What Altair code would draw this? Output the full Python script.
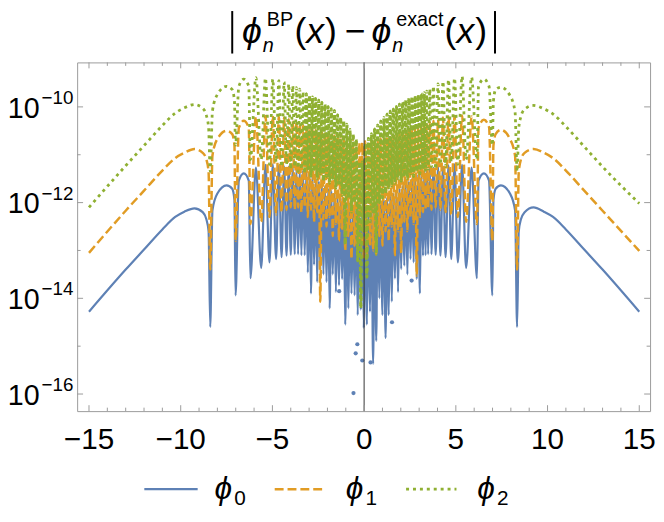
import altair as alt
import pandas as pd

# ---------------- data (log10 of the error) ----------------
X = [
    -15.0, -13.0, -12.0, -11.0, -10.3, -9.8, -9.25, -8.8, -8.6, -8.48,
    -8.39, -8.27, -8.0, -7.5, -7.19, -7.07,
    -7.01, -6.83, -6.56, -6.29,
    -6.20, -5.90, -5.61, -5.38, -5.16, -4.98, -4.80, -4.65, -4.50, -4.36,
    -4.23, -4.11, -4.00, -3.89, -3.78, -3.69, -3.60, -3.51, -3.42, -3.33,
    -3.24, -3.15, -3.07, -2.98, -2.90, -2.81, -2.73, -2.64, -2.56, -2.47,
    -2.39, -2.30, -2.22, -2.13, -2.05, -1.96, -1.88, -1.79, -1.71, -1.62,
    -1.54, -1.45, -1.37, -1.28, -1.20, -1.11, -1.03, -0.94, -0.86, -0.77,
    -0.69, -0.60, -0.52, -0.43, -0.35, -0.26, -0.18, -0.10, -0.02, 0.06,
    0.15, 0.23, 0.32, 0.40, 0.49, 0.57, 0.66, 0.74, 0.83, 0.91,
    1.00, 1.08, 1.17, 1.25, 1.34, 1.42, 1.51, 1.59, 1.68, 1.76,
    1.85, 1.93, 2.02, 2.10, 2.19, 2.27, 2.36, 2.44, 2.53, 2.61,
    2.70, 2.78, 2.87, 2.95, 3.04, 3.12, 3.21, 3.28, 3.35, 3.42,
    3.49, 3.58, 3.67, 3.78, 3.90, 4.03, 4.16, 4.30, 4.44, 4.60,
    4.75, 4.93, 5.11, 5.34, 5.56, 5.86, 6.15, 6.24, 6.53, 6.81,
    6.99, 7.05, 7.17, 7.46, 7.95, 8.23,
    8.34, 8.43, 8.55, 8.75, 9.24, 9.8, 10.3, 11.0, 12.0, 13.0, 15.0,
]

PHI0 = [
    -14.28, -13.40, -12.98, -12.56, -12.30, -12.19, -12.12, -12.20, -12.35, -12.60,
    -14.60, -12.16, -11.81, -11.64, -11.71, -11.95,
    -13.94, -11.54, -11.39, -11.54,
    -13.58, -11.27, -13.37, -11.21, -13.25, -11.20, -13.18, -11.22, -13.14, -11.24,
    -13.11, -11.25, -13.09, -11.27, -13.08, -11.28, -13.08, -11.30, -13.10, -11.32,
    -13.10, -11.35, -13.46, -11.40, -13.90, -11.45, -13.30, -11.50, -13.66, -11.55,
    -13.40, -11.60, -13.50, -11.65, -13.66, -11.70, -14.21, -11.75, -13.50, -11.80,
    -13.87, -11.85, -13.73, -11.90, -13.60, -11.95, -14.55, -12.00, -14.21, -12.00,
    -13.90, -12.05, -13.94, -12.05, -14.35, -12.10, -14.24, -12.10, -14.62, -12.10,
    -14.55, -12.10, -14.28, -12.05, -15.37, -12.05, -14.89, -12.00, -14.00, -12.00,
    -14.35, -11.95, -14.83, -11.90, -14.35, -11.85, -14.07, -11.80, -13.59, -11.75,
    -13.87, -11.70, -13.39, -11.65, -13.32, -11.60, -13.50, -11.55, -13.18, -11.50,
    -13.25, -11.45, -13.60, -11.40, -13.90, -11.35, -13.11, -11.32, -13.10, -11.30,
    -13.08, -11.28, -13.08, -11.27, -13.09, -11.25, -13.11, -11.24, -13.14, -11.22,
    -13.18, -11.20, -13.25, -11.21, -13.37, -11.27, -13.58, -11.54, -11.39, -11.54,
    -13.94, -11.95, -11.71, -11.64, -11.81, -12.16,
    -14.60, -12.60, -12.35, -12.20, -12.10, -12.19, -12.30, -12.56, -12.98, -13.40, -14.28,
]

PHI1 = [
    -13.05, -12.17, -11.75, -11.33, -11.07, -10.96, -10.88, -10.96, -11.10, -11.36,
    -13.40, -11.02, -10.67, -10.50, -10.57, -10.81,
    -12.80, -10.44, -10.29, -10.44,
    -12.45, -10.20, -12.40, -10.19, -12.30, -10.19, -12.25, -10.20, -12.20, -10.22,
    -12.15, -10.26, -12.10, -10.29, -12.15, -10.32, -12.10, -10.36, -12.20, -10.39,
    -12.10, -10.42, -12.30, -10.44, -12.15, -10.46, -12.40, -10.48, -12.20, -10.50,
    -14.07, -10.52, -12.35, -10.54, -12.50, -10.56, -12.30, -10.58, -12.70, -10.60,
    -12.45, -10.62, -12.80, -10.64, -12.55, -10.66, -13.00, -10.68, -12.70, -10.70,
    -13.18, -10.71, -12.90, -10.72, -13.10, -10.75, -13.00, -10.75, -13.20, -10.72,
    -13.10, -10.72, -12.90, -10.71, -13.00, -10.70, -13.08, -10.68, -12.70, -10.66,
    -12.90, -10.64, -12.60, -10.62, -12.80, -10.60, -12.50, -10.58, -13.10, -10.56,
    -12.60, -10.54, -13.05, -10.52, -12.40, -10.50, -12.60, -10.48, -12.30, -10.46,
    -12.45, -10.44, -13.53, -10.42, -12.30, -10.40, -12.20, -10.38, -12.15, -10.36,
    -12.10, -10.32, -12.15, -10.29, -12.10, -10.26, -12.15, -10.22, -12.20, -10.20,
    -12.25, -10.19, -12.30, -10.18, -12.40, -10.20, -12.45, -10.44, -10.27, -10.42,
    -12.80, -10.81, -10.57, -10.48, -10.67, -11.02,
    -13.40, -11.36, -11.10, -10.96, -10.88, -10.96, -11.07, -11.33, -11.75, -12.17, -13.01,
]

PHI2 = [
    -12.10, -11.23, -10.81, -10.39, -10.13, -10.02, -9.95, -10.03, -10.18, -10.43,
    -11.35, -10.09, -9.74, -9.57, -9.64, -9.88,
    -10.80, -9.57, -9.42, -9.57,
    -11.10, -9.39, -11.10, -9.40, -11.20, -9.42, -11.15, -9.45, -11.25, -9.48,
    -11.20, -9.52, -11.30, -9.56, -11.25, -9.60, -11.35, -9.63, -11.30, -9.68,
    -11.40, -9.73, -11.30, -9.76, -11.45, -9.79, -11.35, -9.82, -11.50, -9.86,
    -11.40, -9.90, -11.55, -9.95, -11.45, -9.99, -11.60, -10.04, -11.50, -10.08,
    -11.70, -10.16, -11.60, -10.22, -11.85, -10.29, -12.87, -10.36, -11.90, -10.47,
    -12.20, -10.57, -12.00, -10.68, -13.22, -11.15, -14.20, -11.15, -12.60, -10.76,
    -13.56, -10.66, -12.40, -10.56, -12.20, -10.46, -13.08, -10.38, -12.00, -10.30,
    -11.90, -10.22, -11.80, -10.15, -11.70, -10.09, -11.65, -10.04, -11.60, -9.99,
    -11.50, -9.94, -11.55, -9.90, -11.45, -9.86, -11.50, -9.82, -11.40, -9.79,
    -11.45, -9.77, -11.35, -9.75, -11.40, -9.72, -11.30, -9.70, -11.35, -9.67,
    -11.30, -9.63, -11.25, -9.57, -11.30, -9.52, -11.20, -9.47, -11.25, -9.43,
    -11.15, -9.40, -11.20, -9.36, -11.10, -9.38, -11.10, -9.57, -9.42, -9.57,
    -10.80, -9.88, -9.64, -9.59, -9.76, -10.11,
    -11.35, -10.45, -10.20, -10.05, -9.97, -10.04, -10.15, -10.41, -10.83, -11.25, -12.02,
]

DOT_X = [-1.36, -0.58, -0.46, -0.37, -0.10, 0.35, 1.52, 2.59]
DOT_Y = [-13.85, -15.98, -15.15, -14.96, -15.30, -15.34, -14.50, -13.63]

X_MAJOR = [-15, -10, -5, 0, 5, 10, 15]
X_LABELS = ["\u221215", "\u221210", "\u22125", "0", "5", "10", "15"]
X_MINOR = [-14, -13, -12, -11, -9, -8, -7, -6, -4, -3, -2, -1,
           1, 2, 3, 4, 6, 7, 8, 9, 11, 12, 13, 14]
Y_MAJOR = [-16, -14, -12, -10]
Y_EXP = ["\u221216", "\u221214", "\u221212", "\u221210"]
Y_MINOR = [-15, -13, -11]

SERIES = ["\u03d5", "\u03d5", "\u03d5"]
SUBS = ["0", "1", "2"]

# ---------------- layout ----------------
W, H = 580, 353
BLUE, ORANGE, GREEN = "#5E81B5", "#E19C24", "#8FB032"
FRAME = "#9a9a9a"
FONT = "Liberation Sans"

xs = alt.Scale(domain=[-15.646, 15.59], nice=False, zero=False)
ys = alt.Scale(domain=[-16.357, -9.071], nice=False, zero=False)
DENSE = "abs(datum.x) < 3.3"


def curve(vals, color, width, dash=None, dense_only=False, offset=0):
    df = pd.DataFrame({"x": X, "y": vals})
    kw = dict(color=color, strokeWidth=width, interpolate="monotone", clip=True)
    if dash:
        kw["strokeDash"] = dash
    if offset:
        kw["strokeDashOffset"] = offset
    ch = alt.Chart(df)
    if dense_only:
        ch = ch.transform_filter(DENSE)
    return ch.mark_line(**kw).encode(
        x=alt.X("x:Q", scale=xs, axis=None), y=alt.Y("y:Q", scale=ys, axis=None)
    )


DASH1 = [9, 4]
DASH2 = [3, 4]

c0 = curve(PHI0, BLUE, 2.2)
c1 = curve(PHI1, ORANGE, 2.5, DASH1)
c2 = curve(PHI2, GREEN, 2.8, DASH2)
c2b = curve(PHI2, GREEN, 2.8, DASH2, dense_only=True, offset=3.5)

dots = alt.Chart(pd.DataFrame({"x": DOT_X, "y": DOT_Y})).mark_circle(
    color=BLUE, size=18, opacity=1
).encode(x=alt.X("x:Q", scale=xs, axis=None), y=alt.Y("y:Q", scale=ys, axis=None))

zero_line = alt.Chart(pd.DataFrame({"x": [0]})).mark_rule(color="#333333", strokeWidth=1).encode(
    x=alt.X("x:Q", scale=xs, axis=None), y=alt.value(0), y2=alt.value(H)
)


def xticks(vals, length):
    d = pd.DataFrame({"x": vals})
    b = alt.Chart(d).mark_rule(color=FRAME, strokeWidth=1).encode(
        x=alt.X("x:Q", scale=xs, axis=None), y=alt.value(H), y2=alt.value(H - length))
    t = alt.Chart(d).mark_rule(color=FRAME, strokeWidth=1).encode(
        x=alt.X("x:Q", scale=xs, axis=None), y=alt.value(0), y2=alt.value(length))
    return [b, t]


def yticks(vals, length):
    d = pd.DataFrame({"y": vals})
    l = alt.Chart(d).mark_rule(color=FRAME, strokeWidth=1).encode(
        y=alt.Y("y:Q", scale=ys, axis=None), x=alt.value(0), x2=alt.value(length))
    r = alt.Chart(d).mark_rule(color=FRAME, strokeWidth=1).encode(
        y=alt.Y("y:Q", scale=ys, axis=None), x=alt.value(W), x2=alt.value(W - length))
    return [l, r]


ticks = xticks(X_MAJOR, 6) + xticks(X_MINOR, 3.5) + yticks(Y_MAJOR, 6) + yticks(Y_MINOR, 3.5)

xlab = alt.Chart(pd.DataFrame({"x": X_MAJOR, "t": X_LABELS})).mark_text(
    font=FONT, fontSize=30, baseline="top", align="center", color="black"
).encode(x=alt.X("x:Q", scale=xs, axis=None), y=alt.value(H + 14), text="t:N")

ylab10 = alt.Chart(pd.DataFrame({"y": Y_MAJOR, "t": ["10"] * 4})).mark_text(
    font=FONT, fontSize=29, baseline="alphabetic", align="right", color="black", dy=11
).encode(y=alt.Y("y:Q", scale=ys, axis=None), x=alt.value(-38), text="t:N")

ylabexp = alt.Chart(pd.DataFrame({"y": Y_MAJOR, "t": Y_EXP})).mark_text(
    font=FONT, fontSize=19, baseline="alphabetic", align="left", color="black", dy=-3
).encode(y=alt.Y("y:Q", scale=ys, axis=None), x=alt.value(-36), text="t:N")

# ---- title (pixel positions relative to the plot's top-left corner) ----
title_up = pd.DataFrame({
    "t": ["(", ")", "\u2212", "(", ")", "BP", "exact"],
    "px": [220, 251, 271, 372, 403, 192, 323],
    "py": [-20, -20, -20, -20, -20, -37, -37],
    "fs": [36, 36, 36, 36, 36, 20, 20],
})
title_it = pd.DataFrame({
    "t": ["\u03d5", "x", "n", "\u03d5", "x", "n"],
    "px": [167, 232, 188, 298, 384, 319],
    "py": [-20, -20, -11, -20, -20, -11],
    "fs": [36, 36, 20, 36, 36, 20],
})


def txt(df, italic):
    kw = dict(font=FONT, align="left", baseline="alphabetic", color="black")
    if italic:
        kw["fontStyle"] = "italic"
    return alt.Chart(df).mark_text(**kw).encode(
        x=alt.X("px:Q", scale=None), y=alt.Y("py:Q", scale=None),
        size=alt.Size("fs:Q", scale=None, legend=None), text="t:N")


bars = alt.Chart(pd.DataFrame({"x": [157, 423], "y": [-52, -52], "y2": [-9, -9]})).mark_rule(
    color="black", strokeWidth=2
).encode(x=alt.X("x:Q", scale=None), y=alt.Y("y:Q", scale=None), y2="y2:Q")

# ---- legend ----
leg_lines = pd.DataFrame({"x": [68, 200, 333], "x2": [122, 251, 384], "k": ["0", "1", "2"]})


def leg_line(i, color, width, dash=None):
    kw = dict(color=color, strokeWidth=width)
    if dash:
        kw["strokeDash"] = dash
    d = leg_lines.iloc[[i]]
    return alt.Chart(d).mark_rule(**kw).encode(
        x=alt.X("x:Q", scale=None), x2="x2:Q", y=alt.value(432))


leg_phi = alt.Chart(pd.DataFrame({"t": SERIES, "px": [139, 272, 405]})).mark_text(
    font=FONT, fontSize=32, fontStyle="italic", align="left", baseline="alphabetic", color="black"
).encode(x=alt.X("px:Q", scale=None), y=alt.value(442), text="t:N")
leg_sub = alt.Chart(pd.DataFrame({"t": SUBS, "px": [159, 292, 425]})).mark_text(
    font=FONT, fontSize=21, align="left", baseline="alphabetic", color="black"
).encode(x=alt.X("px:Q", scale=None), y=alt.value(448), text="t:N")

chart = alt.layer(
    c0, c1, c2, c2b, dots, zero_line, *ticks, xlab, ylab10, ylabexp,
    txt(title_up, False), txt(title_it, True), bars,
    leg_line(0, BLUE, 2.2), leg_line(1, ORANGE, 2.5, DASH1), leg_line(2, GREEN, 2.8, DASH2),
    leg_phi, leg_sub,
).properties(
    width=W, height=H,
    autosize=alt.AutoSizeParams(type="none"),
    padding={"left": 70, "top": 52, "right": 6, "bottom": 96},
).configure_view(stroke=FRAME, strokeWidth=1)

chart.save("out.html", embed_options={"renderer": "svg", "actions": False})
